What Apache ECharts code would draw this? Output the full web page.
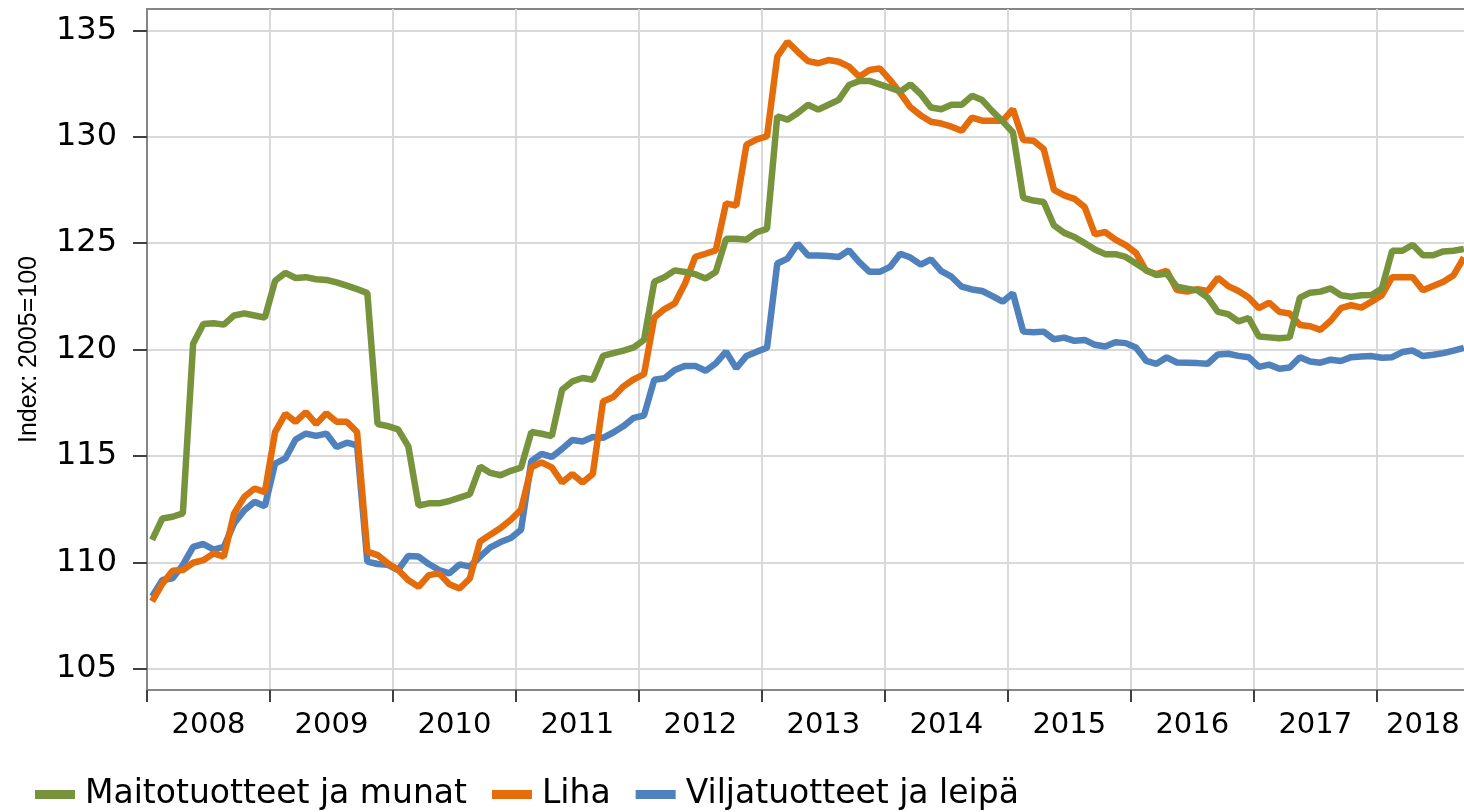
<!DOCTYPE html>
<html>
<head>
<meta charset="utf-8">
<title>Hintaindeksit</title>
<script src="https://cdn.jsdelivr.net/npm/echarts@6/dist/echarts.min.js"></script>
<style>
  html, body { margin: 0; padding: 0; background: #fff; }
  #chart { width: 1464px; height: 812px; }
</style>
</head>
<body>
<div id="chart"></div>
<script>
// Monthly index values, Jan 2008 - Sep 2018 (2005=100)
const firstYear = 2008;
const yearLabels = ["2008", "2009", "2010", "2011", "2012", "2013", "2014", "2015", "2016", "2017", "2018"];
const yTicks = [105, 110, 115, 120, 125, 130, 135];

const maito = [
  111.05, 112.06, 112.14, 112.3, 120.27, 121.2, 121.23, 121.17, 121.6, 121.7, 121.6, 121.5,
  123.23, 123.6, 123.36, 123.4, 123.3, 123.27, 123.15, 123.0, 122.84, 122.65, 116.5, 116.4,
  116.25, 115.45, 112.67, 112.77, 112.77, 112.88, 113.04, 113.2, 114.5, 114.2, 114.09, 114.3,
  114.45, 116.12, 116.04, 115.93, 118.11, 118.5, 118.66, 118.58, 119.7, 119.83, 119.95, 120.1,
  120.45, 123.18, 123.4, 123.72, 123.64, 123.54, 123.34, 123.64, 125.2, 125.2, 125.16, 125.51,
  125.67, 130.96, 130.8, 131.11, 131.5, 131.27, 131.5, 131.73, 132.43, 132.62, 132.62, 132.46,
  132.3, 132.12, 132.46, 132.0, 131.37, 131.29, 131.5, 131.5, 131.92, 131.72, 131.19, 130.72,
  130.2, 127.13, 127.0, 126.93, 125.83, 125.48, 125.29, 125.0, 124.7, 124.48, 124.48, 124.35,
  124.04, 123.73, 123.5, 123.57, 122.95, 122.86, 122.78, 122.44, 121.77, 121.66, 121.32, 121.48,
  120.61, 120.57, 120.53, 120.57, 122.44, 122.67, 122.72, 122.87, 122.55, 122.48, 122.55, 122.56,
  122.87, 124.64, 124.64, 124.92, 124.43, 124.43, 124.61, 124.64, 124.72
];

const liha = [
  108.16, 109.0, 109.6, 109.64, 109.98, 110.1, 110.42, 110.27, 112.3, 113.08, 113.47, 113.3,
  116.12, 116.98, 116.6, 117.06, 116.5, 117.0, 116.6, 116.6, 116.12, 110.5, 110.34, 109.95,
  109.65, 109.16, 108.85, 109.4, 109.48, 108.97, 108.77, 109.24, 110.98, 111.3, 111.61, 112.0,
  112.48, 114.46, 114.7, 114.46, 113.75, 114.15, 113.75, 114.15, 117.56, 117.77, 118.27, 118.6,
  118.84, 121.5, 121.9, 122.17, 123.1, 124.35, 124.5, 124.66, 126.87, 126.76, 129.63, 129.87,
  130.02, 133.76, 134.46, 133.99, 133.55, 133.45, 133.6, 133.52, 133.29, 132.82, 133.13, 133.21,
  132.67, 132.05, 131.38, 131.0, 130.7, 130.62, 130.47, 130.28, 130.9, 130.75, 130.75, 130.75,
  131.29, 129.84, 129.81, 129.42, 127.5, 127.24, 127.08, 126.69, 125.41, 125.52, 125.16, 124.9,
  124.54, 123.7, 123.54, 123.7, 122.79, 122.72, 122.83, 122.75, 123.37, 122.98, 122.75, 122.44,
  121.94, 122.2, 121.77, 121.69, 121.15, 121.09, 120.92, 121.35, 121.94, 122.08, 121.97, 122.25,
  122.55, 123.4, 123.4, 123.4, 122.78, 122.98, 123.18, 123.49, 124.33
];

const vilja = [
  108.4, 109.17, 109.25, 109.88, 110.73, 110.86, 110.6, 110.73, 111.83, 112.45, 112.84, 112.64,
  114.64, 114.88, 115.77, 116.05, 115.94, 116.05, 115.42, 115.62, 115.5, 110.03, 109.92, 109.88,
  109.64, 110.3, 110.27, 109.92, 109.64, 109.48, 109.9, 109.8, 110.27, 110.7, 110.95, 111.14,
  111.53, 114.75, 115.1, 114.95, 115.33, 115.75, 115.68, 115.89, 115.85, 116.1, 116.4, 116.79,
  116.9, 118.58, 118.65, 119.04, 119.23, 119.23, 119.0, 119.35, 119.9, 119.12, 119.7, 119.9,
  120.08, 124.04, 124.27, 124.97, 124.42, 124.42, 124.39, 124.35, 124.66, 124.11, 123.65, 123.65,
  123.88, 124.5, 124.32, 123.99, 124.24, 123.68, 123.42, 122.95, 122.82, 122.75, 122.51, 122.25,
  122.64, 120.84, 120.81, 120.84, 120.48, 120.56, 120.41, 120.45, 120.22, 120.14, 120.34, 120.3,
  120.09, 119.47, 119.33, 119.63, 119.39, 119.38, 119.36, 119.33, 119.77, 119.8, 119.7, 119.64,
  119.18, 119.29, 119.1, 119.15, 119.64, 119.44, 119.38, 119.52, 119.46, 119.64, 119.67, 119.69,
  119.61, 119.64, 119.88, 119.95, 119.69, 119.75, 119.83, 119.95, 120.08
];

// Month categories, e.g. "2008-01"
const monthCount = maito.length;
const months = Array.from({ length: monthCount }, (_, i) => {
  const y = firstYear + Math.floor(i / 12);
  const m = (i % 12) + 1;
  return y + "-" + (m < 10 ? "0" + m : m);
});

// Year labels sit in the middle of the months that are shown for each year
const yearCenters = yearLabels.map((_, i) => {
  const start = i * 12;
  const end = Math.min(start + 12, monthCount);
  return (start + end) / 2;
});

const chart = echarts.init(document.getElementById("chart"));

const axisGray = "#868686";
const tickColor = "#404040";
const gridGray = "#d9d9d9";
const yearStart = (idx) => idx % 12 === 0;

const option = {
  backgroundColor: "#ffffff",
  animation: false,
  grid: {
    left: 147,
    top: 9,
    width: 1322,
    height: 681,
    outerBoundsMode: "none",
    containLabel: false,
    show: true,
    borderColor: axisGray,
    borderWidth: 2,
    backgroundColor: "transparent",
  },
  legend: {
    left: 30,
    top: 773,
    icon: "rect",
    itemWidth: 40,
    itemHeight: 9,
    itemGap: 25,
    textStyle: {
      fontFamily: "DejaVu Sans",
      fontSize: 33,
      color: "#000",
      padding: [0, 0, 0, 5],
    },
    data: ["Maitotuotteet ja munat", "Liha", "Viljatuotteet ja leipä"],
  },
  xAxis: [
    {
      type: "category",
      data: months,
      boundaryGap: true,
      position: "bottom",
      axisLine: { lineStyle: { color: axisGray, width: 2 } },
      axisTick: {
        show: true,
        interval: yearStart,
        length: 12,
        lineStyle: { color: tickColor, width: 2 },
      },
      axisLabel: { show: false },
      splitLine: {
        show: true,
        interval: yearStart,
        lineStyle: { color: gridGray, width: 2 },
      },
    },
    {
      type: "value",
      min: 0,
      max: monthCount,
      position: "bottom",
      axisLine: { show: false },
      axisTick: { show: false },
      splitLine: { show: false },
      axisLabel: {
        customValues: yearCenters,
        formatter: (v) => yearLabels[Math.floor(v / 12)],
        margin: 21,
        fontFamily: "DejaVu Sans",
        fontSize: 29,
        color: "#000",
      },
    },
  ],
  yAxis: {
    type: "value",
    min: 104,
    max: 136,
    name: "Index: 2005=100",
    nameLocation: "middle",
    nameRotate: 90,
    nameGap: 105,
    nameTextStyle: {
      fontFamily: "Liberation Sans",
      fontSize: 25,
      color: "#000",
    },
    axisLine: { show: true, lineStyle: { color: axisGray, width: 2 } },
    axisTick: {
      show: true,
      customValues: yTicks,
      length: 14,
      lineStyle: { color: tickColor, width: 2 },
    },
    axisLabel: {
      customValues: yTicks,
      margin: 30,
      fontFamily: "DejaVu Sans",
      fontSize: 32,
      color: "#000",
    },
    splitLine: {
      show: true,
      lineStyle: { color: gridGray, width: 2 },
    },
  },
  series: [
    {
      name: "Maitotuotteet ja munat",
      type: "line",
      data: maito,
      showSymbol: false,
      z: 4,
      itemStyle: { color: "#77933c" },
      lineStyle: { color: "#77933c", width: 6.5 },
    },
    {
      name: "Liha",
      type: "line",
      data: liha,
      showSymbol: false,
      z: 3,
      itemStyle: { color: "#e46c0a" },
      lineStyle: { color: "#e46c0a", width: 6.5 },
    },
    {
      name: "Viljatuotteet ja leipä",
      type: "line",
      data: vilja,
      showSymbol: false,
      z: 2,
      itemStyle: { color: "#4f81bd" },
      lineStyle: { color: "#4f81bd", width: 6.5 },
    },
  ],
};

chart.setOption(option);
</script>
</body>
</html>
